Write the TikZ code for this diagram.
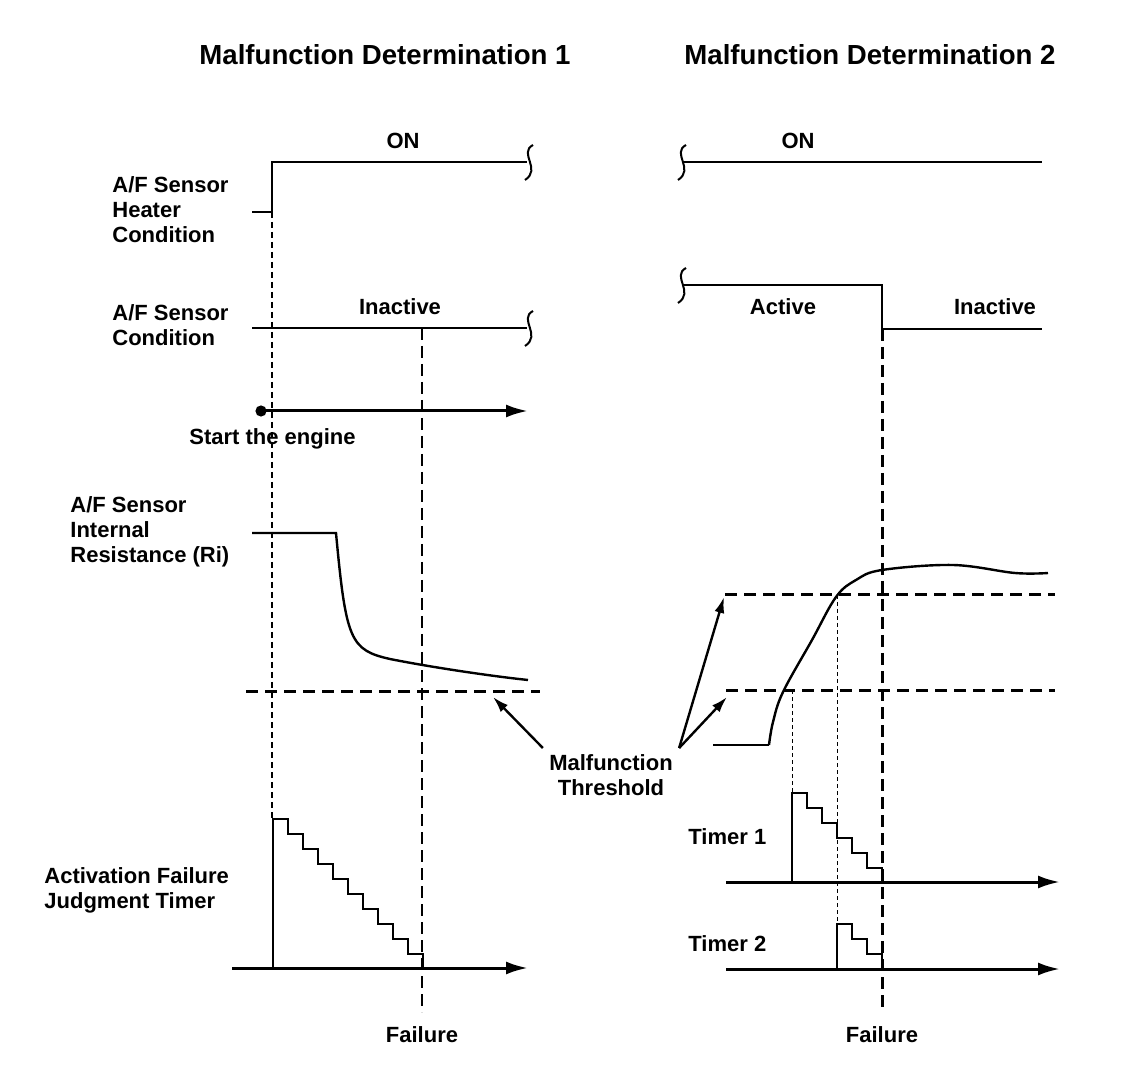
\documentclass[tikz,border=0pt]{standalone}
\usepackage{fontspec}
\setmainfont{Liberation Sans}
\usetikzlibrary{arrows.meta, positioning, calc}

\begin{document}
\begin{tikzpicture}[
        x=0.5pt, y=-0.5pt,
        title_lbl/.style={font=\fontsize{13.8}{16}\selectfont\bfseries, inner sep=0pt},
        lbl/.style={font=\fontsize{11}{12.5}\selectfont\bfseries, inner sep=0pt, align=left},
        sig_line/.style={line width=1pt},
        step_line/.style={line width=1.3pt},
        ri_curve/.style={line width=1.2pt},
        axis_arrow/.style={-{Latex[length=11pt, width=6.5pt]}, line width=1.5pt},
        ptr_arrow/.style={-{Latex[length=8pt, width=5pt]}, line width=1.2pt},
        thr_line/.style={line width=1.5pt, dash pattern=on 6pt off 3.5pt},
        start_dash/.style={line width=1pt, dash pattern=on 3pt off 2pt},
        fail_dash/.style={line width=0.7pt, dash pattern=on 6pt off 3pt},
        fail_dash_thick/.style={line width=1.5pt, dash pattern=on 6pt off 3pt},
        fine_dash/.style={line width=0.5pt, dash pattern=on 2pt off 1.5pt},
        brk/.pic={\draw[sig_line] (3,-17) .. controls (-12,-9) and (12,7) .. (-5,18);}
    ]
    \useasboundingbox (0,0) rectangle (1136,1080);

    % titles
    \node[title_lbl] (title1) at (385,55) {Malfunction Determination 1};
    \node[title_lbl] (title2) at (870,55) {Malfunction Determination 2};

    % row labels
    \node[lbl, anchor=west] (heater_lbl) at (112,210) {A/F Sensor\\Heater\\Condition};
    \node[lbl, anchor=west] (cond_lbl) at (112,325) {A/F Sensor\\Condition};
    \node[lbl, anchor=west] (start_lbl) at (189,439) {Start the engine};
    \node[lbl, anchor=west] (ri_lbl) at (70,532) {A/F Sensor\\Internal\\Resistance (Ri)};
    \node[lbl, anchor=west] (timer_lbl) at (44,890) {Activation Failure\\Judgment Timer};
    \node[lbl, anchor=west] (t1_lbl) at (688,837) {Timer 1};
    \node[lbl, anchor=west] (t2_lbl) at (688,944) {Timer 2};

    % state labels
    \node[lbl] (on1) at (403,141) {ON};
    \node[lbl] (on2) at (798,141) {ON};
    \node[lbl] (inact1) at (400,307) {Inactive};
    \node[lbl] (act2) at (783,307) {Active};
    \node[lbl] (inact2) at (995,307) {Inactive};
    \node[lbl] (fail1) at (422,1035) {Failure};
    \node[lbl] (fail2) at (882,1035) {Failure};

    % heater and sensor condition signals
    \draw[sig_line] (252,212) -- (272,212) -- (272,162) -- (527,162);
    \pic at (530,162) {brk};
    \draw[sig_line] (252,328) -- (527,328);
    \pic at (530,328) {brk};
    \pic at (683,162) {brk};
    \draw[sig_line] (684,162) -- (1042,162);
    \pic at (683,285) {brk};
    \draw[sig_line] (684,285) -- (882,285) -- (882,329) -- (1042,329);

    % engine start
    \coordinate (eng_start) at (261,411);
    \coordinate (eng_end) at (528,411);
    \fill (eng_start) circle (2.8pt);
    \draw[axis_arrow] (eng_start) -- (eng_end);

    % internal resistance
    \draw[ri_curve] (252,533) -- (336,533) .. controls (346,640) and (350,650) .. (390,659)
        .. controls (430,667) and (490,676) .. (528,680);
    \draw[ri_curve] (713,745) -- (769,745);
    \draw[ri_curve] plot[smooth, tension=0.6] coordinates {(769,745) (773,722) (783,692) (812,640)
        (836,597) (856,580) (882,570) (953,565) (1015,573) (1048,573)};

    % thresholds
    \draw[thr_line] (246,691) -- (540,691);
    \draw[thr_line] (725,595) -- (1055,595);
    \draw[thr_line] (726,690) -- (1055,690);

    % vertical markers
    \draw[start_dash] (272,212) -- (272,819);
    \draw[fail_dash] (422,328) -- (422,1012);
    \draw[fail_dash_thick] (882,329) -- (882,1012);
    \draw[fine_dash] (792,690) -- (792,793);
    \draw[fine_dash] (837,595) -- (837,924);

    % timers
    \draw[axis_arrow] (232,968) -- (528,968);
    \draw[step_line] (273,968) -- (273,819) \foreach \k in {1,...,9} {-- ++(15,0) -- ++(0,15)} -- ++(15,0) -- (423,968);
    \draw[axis_arrow] (726,882) -- (1060,882);
    \draw[step_line] (792,882) -- (792,793) \foreach \k in {1,...,5} {-- ++(15,0) -- ++(0,15)} -- ++(15,0) -- (882,882);
    \draw[axis_arrow] (726,969) -- (1060,969);
    \draw[step_line] (837,969) -- (837,924) \foreach \k in {1,2} {-- ++(15,0) -- ++(0,15)} -- ++(15,0) -- (882,969);

    % threshold pointers
    \node[lbl, align=center, inner sep=3pt] (thr_lbl) at (611,775) {Malfunction\\Threshold};
    \coordinate (thr1_tip) at (493,697);
    \coordinate (thr2_tip) at (724,597);
    \coordinate (thr3_tip) at (727,697);
    \draw[ptr_arrow] (thr_lbl.north west) -- (thr1_tip);
    \draw[ptr_arrow] (thr_lbl.north east) -- (thr2_tip);
    \draw[ptr_arrow] (thr_lbl.north east) -- (thr3_tip);
\end{tikzpicture}
\end{document}
